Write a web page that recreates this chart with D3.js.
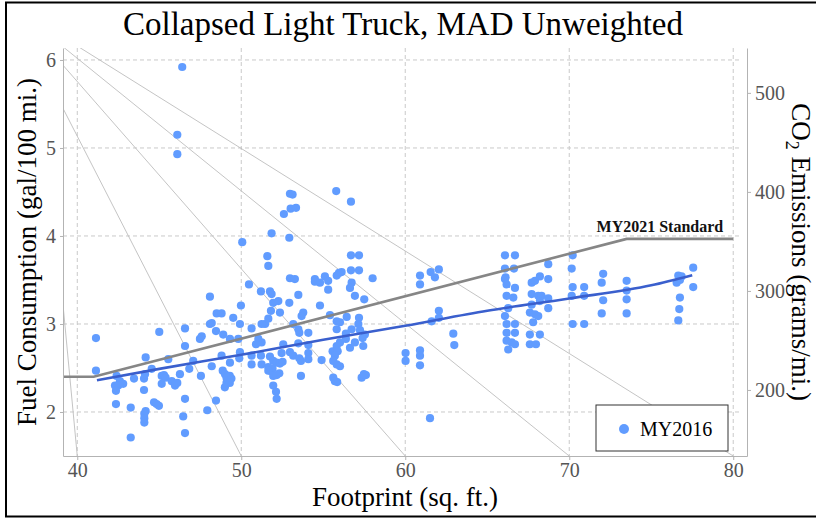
<!DOCTYPE html>
<html>
<head>
<meta charset="utf-8">
<script src="https://cdn.jsdelivr.net/npm/d3@7"></script>
<style>
  body { margin: 0; background: #fff; }
  #chart { width: 816px; height: 518px; }
  svg { display: block; }
</style>
</head>
<body>
<div id="chart"></div>
<script>
// MY2016 vehicles: footprint (sq. ft.) and fuel consumption (gal/100 mi.)
const footprint = [
  46.40, 46.10, 46.10, 50.06, 51.59, 51.65, 51.85,
  41.14, 41.14, 45.00, 44.17, 46.57, 46.57, 47.48, 47.59, 48.09, 48.09, 48.20, 48.50, 48.80,
  48.46, 48.90, 49.31, 49.51, 49.92, 49.82, 49.98, 50.47, 51.20, 51.45, 50.63, 51.24, 49.88,
  50.63, 51.20, 51.75,
  42.40, 42.60, 42.30, 42.50, 42.36, 42.80, 43.46, 44.07, 44.13, 44.54, 44.07, 42.36, 43.26,
  44.17, 44.09, 44.09, 44.09, 44.68, 44.84, 44.98, 45.15, 45.15, 45.29, 45.39, 45.55, 45.76,
  45.96, 46.10, 46.26, 46.57, 46.46, 46.57, 43.26, 46.83, 47.07, 47.54, 48.20, 48.46, 47.93,
  48.80, 48.87, 49.01, 49.10, 49.30, 49.40, 49.10, 49.30, 49.00, 49.31,
  52.97, 53.13, 53.01, 53.34, 52.60, 55.79, 56.69, 52.93, 56.69, 57.18, 56.69, 57.18, 55.96,
  56.12, 55.82, 55.10, 52.97, 53.27, 54.49, 58.01, 60.90, 61.55, 62.05, 61.81, 66.08, 66.69,
  66.08, 66.63, 66.12,
  54.49, 54.80, 55.30, 56.73, 51.75, 51.85, 51.95, 52.26, 52.93, 53.48, 55.30, 56.63, 56.93,
  57.50, 54.80, 51.81, 52.36, 53.78, 53.68, 55.41, 56.43, 57.18, 51.65, 51.24, 53.17, 53.48,
  53.54, 54.09, 55.82, 56.02, 55.82, 56.73, 57.24, 57.14, 57.54, 56.38, 51.04, 50.90, 52.56,
  53.48, 54.09, 56.38, 55.82, 56.63, 56.02, 56.93, 57.44, 57.40, 49.92, 51.75, 51.95, 52.46,
  52.97, 53.17, 53.54, 54.09, 54.09, 53.64, 54.90, 55.57, 55.88, 55.71, 55.82, 56.02, 55.61,
  50.63, 51.24, 51.65, 51.91, 52.16, 52.36, 52.52, 51.65, 51.95, 52.16, 52.32, 53.64, 55.61,
  55.71, 55.85, 57.34, 57.60, 57.48, 51.95, 52.12, 52.16, 61.51, 60.02, 60.02, 60.90, 60.90,
  60.90, 61.61, 62.05, 62.05, 62.93, 62.99, 60.90,
  66.08, 66.18, 66.69, 66.18, 66.59, 66.28, 66.08, 66.18, 66.69, 66.18, 66.69, 66.18, 66.49,
  66.69, 66.28,
  67.71, 67.91, 68.21, 68.72, 68.72, 67.71, 68.11, 68.31, 68.72, 67.71, 68.21, 68.72, 67.60,
  67.91, 68.11, 67.80, 67.60, 68.21, 67.60, 67.97,
  70.21, 70.15, 70.21, 70.91, 70.15, 70.91, 70.21, 70.91,
  72.07, 71.98, 72.07, 71.98, 73.50, 73.50, 73.50, 73.50,
  76.65, 76.85, 76.75, 76.55, 76.75, 76.71, 76.65, 77.56, 77.56
];
const fuel = [
  5.92, 5.15, 4.93, 3.93, 3.77, 3.66, 4.03,
  2.84, 2.47, 2.91, 2.62, 2.95, 2.75, 2.83, 2.86, 3.31, 3.00, 3.01, 3.12, 3.12,
  2.92, 2.88, 2.83, 3.07, 3.00, 2.83, 3.21, 3.45, 3.37, 3.00, 2.95, 2.79, 2.61,
  2.64, 2.64, 2.47,
  2.41, 2.35, 2.30, 2.30, 2.24, 2.32, 2.38, 2.38, 2.43, 2.49, 2.25, 2.09, 2.05,
  2.01, 1.98, 1.93, 1.88, 2.11, 2.09, 2.07, 2.41, 2.32, 2.42, 2.39, 2.60, 2.35,
  2.30, 2.33, 2.43, 2.15, 1.95, 1.76, 1.71, 2.49, 2.58, 2.41, 2.52, 2.13, 2.02,
  2.64, 2.47, 2.43, 2.39, 2.41, 2.38, 2.33, 2.33, 2.28, 2.56,
  4.48, 4.47, 4.31, 4.32, 4.25, 4.51, 4.39, 3.98, 3.78, 3.78, 3.61, 3.61, 3.58,
  3.59, 3.55, 3.54, 3.52, 3.51, 3.51, 3.52, 3.55, 3.59, 3.62, 3.53, 3.78, 3.78,
  3.63, 3.63, 3.53,
  3.48, 3.47, 3.49, 3.47, 3.37, 3.34, 3.24, 3.26, 3.24, 3.33, 3.39, 3.41, 3.32,
  3.28, 3.21, 3.15, 3.13, 3.13, 3.09, 3.10, 3.08, 3.07, 3.06, 3.00, 3.00, 2.94,
  2.90, 2.90, 3.03, 3.02, 2.94, 2.94, 2.93, 3.00, 2.88, 2.89, 2.83, 2.77, 2.77,
  2.78, 2.76, 2.83, 2.75, 2.73, 2.79, 2.79, 2.75, 2.84, 2.68, 2.63, 2.58, 2.67,
  2.68, 2.64, 2.61, 2.67, 2.60, 2.58, 2.59, 2.69, 2.69, 2.64, 2.54, 2.52, 2.58,
  2.54, 2.54, 2.51, 2.49, 2.56, 2.55, 2.57, 2.47, 2.41, 2.42, 2.44, 2.41, 2.39,
  2.35, 2.34, 2.39, 2.42, 2.43, 2.30, 2.23, 2.15, 1.93, 2.67, 2.58, 2.70, 2.64,
  2.53, 3.03, 3.15, 3.07, 2.89, 2.76, 3.45,
  3.51, 3.45, 3.41, 3.32, 3.30, 3.18, 3.09, 3.00, 3.00, 2.90, 2.90, 2.81, 2.79,
  2.77, 2.71,
  3.47, 3.49, 3.54, 3.68, 3.51, 3.34, 3.32, 3.32, 3.29, 3.22, 3.26, 3.18, 3.13,
  3.11, 3.09, 3.02, 2.88, 2.88, 2.77, 2.77,
  3.78, 3.63, 3.42, 3.42, 3.32, 3.32, 3.00, 3.00,
  3.57, 3.47, 3.27, 3.12, 3.49, 3.38, 3.28, 3.12,
  3.55, 3.54, 3.50, 3.47, 3.30, 3.17, 3.04, 3.64, 3.42
];

// fitted MY2016 curve
const fitX = [41.2, 45, 50, 55, 60, 65, 70, 75, 77.5];
const fitY = [2.36, 2.49, 2.65, 2.82, 2.98, 3.15, 3.29, 3.44, 3.555];

// MY2021 standard (piecewise)
const stdX = [39, 41.0, 73.5, 80];
const stdY = [2.40, 2.40, 3.967, 3.967];

// grey guide lines: start on the left edge, end on the bottom edge
const guideStartX = 39.13;
const guideStartY = [3.22, 5.45, 5.94, 6.15, 6.26];
const guideEnds = [40, 50, 60, 70, 80];

const xTicks = [40, 50, 60, 70, 80];
const yTicks = [2, 3, 4, 5, 6];
const co2Ticks = [200, 300, 400, 500];
const co2PerGal = 88.87;

const width = 816;
const height = 518;
const margin = { top: 48, right: 69, bottom: 62, left: 63 };

const svg = d3.select("#chart").append("svg")
  .attr("width", width)
  .attr("height", height);

const x = d3.scaleLinear()
  .domain([39.13, 80.84])
  .range([margin.left, width - margin.right]);

const y = d3.scaleLinear()
  .domain([1.5, 6.136])
  .range([height - margin.bottom, margin.top]);

const y2 = d3.scaleLinear()
  .domain(y.domain().map((d) => d * co2PerGal))
  .range(y.range());

const serif = "'Liberation Serif', 'Times New Roman', serif";

svg.append("defs").append("clipPath").attr("id", "panel")
  .append("rect")
  .attr("x", margin.left)
  .attr("y", margin.top)
  .attr("width", width - margin.left - margin.right)
  .attr("height", height - margin.top - margin.bottom);

// grid
const grid = svg.append("g")
  .attr("stroke", "#c9c9c9")
  .attr("stroke-dasharray", "4,3")
  .attr("stroke-width", 1);

grid.selectAll(".gx").data(xTicks).join("line")
  .attr("x1", (d) => x(d)).attr("x2", (d) => x(d))
  .attr("y1", margin.top).attr("y2", height - margin.bottom);

grid.selectAll(".gy").data(yTicks).join("line")
  .attr("x1", margin.left).attr("x2", width - margin.right - 7)
  .attr("y1", (d) => y(d)).attr("y2", (d) => y(d));

// guide lines
const plot = svg.append("g").attr("clip-path", "url(#panel)");

plot.selectAll(".guide").data(guideEnds).join("line")
  .attr("x1", x(guideStartX))
  .attr("y1", (d, i) => y(guideStartY[i]))
  .attr("x2", (d) => x(d))
  .attr("y2", y(1.5))
  .attr("stroke", "#bdbdbd")
  .attr("stroke-width", 0.9);

// points
plot.selectAll(".pt").data(footprint).join("circle")
  .attr("cx", (d) => x(d))
  .attr("cy", (d, i) => y(fuel[i]))
  .attr("r", 4.1)
  .attr("fill", "#619CFF");

// standard line
const line = d3.line().x((d) => x(d[0])).y((d) => y(d[1]));

plot.append("path")
  .datum(stdX.map((d, i) => [d, stdY[i]]))
  .attr("d", line)
  .attr("fill", "none")
  .attr("stroke", "#868686")
  .attr("stroke-width", 2.6);

plot.append("path")
  .datum(fitX.map((d, i) => [d, fitY[i]]))
  .attr("d", d3.line().x((d) => x(d[0])).y((d) => y(d[1])).curve(d3.curveMonotoneX))
  .attr("fill", "none")
  .attr("stroke", "#3A5FCD")
  .attr("stroke-width", 2.6);

svg.append("text")
  .attr("x", x(80) - 10)
  .attr("y", y(stdY[3]) - 7)
  .attr("text-anchor", "end")
  .style("font-family", serif)
  .style("font-weight", "bold")
  .style("font-size", "16px")
  .attr("fill", "#111")
  .text("MY2021 Standard");

// axes
const axisColor = "#b3b3b3";
const tickText = "#555";

const styleAxis = (g) => {
  g.select(".domain").attr("stroke", axisColor);
  g.selectAll(".tick line").attr("stroke", axisColor);
  g.selectAll(".tick text")
    .attr("fill", tickText)
    .style("font-family", serif)
    .style("font-size", "20px");
};

svg.append("g")
  .attr("transform", `translate(0,${height - margin.bottom})`)
  .call(d3.axisBottom(x).tickValues(xTicks).tickFormat(d3.format("d"))
    .tickSize(4).tickSizeOuter(0).tickPadding(3))
  .call(styleAxis);

svg.append("g")
  .attr("transform", `translate(${margin.left},0)`)
  .call(d3.axisLeft(y).tickValues(yTicks).tickFormat(d3.format("d"))
    .tickSize(3).tickSizeOuter(0).tickPadding(4))
  .call(styleAxis);

svg.append("g")
  .attr("transform", `translate(${width - margin.right},0)`)
  .call(d3.axisRight(y2).tickValues(co2Ticks).tickFormat(d3.format("d"))
    .tickSize(4).tickSizeOuter(0).tickPadding(4))
  .call(styleAxis);

// titles
svg.append("text")
  .attr("x", 403)
  .attr("y", 35)
  .attr("text-anchor", "middle")
  .style("font-family", serif)
  .style("font-size", "33px")
  .attr("fill", "#000")
  .text("Collapsed Light Truck, MAD Unweighted");

svg.append("text")
  .attr("x", 405)
  .attr("y", 506)
  .attr("text-anchor", "middle")
  .style("font-family", serif)
  .style("font-size", "27px")
  .attr("fill", "#000")
  .text("Footprint (sq. ft.)");

svg.append("text")
  .attr("transform", `translate(36,${(margin.top + height - margin.bottom) / 2}) rotate(-90)`)
  .attr("text-anchor", "middle")
  .style("font-family", serif)
  .style("font-size", "27px")
  .attr("fill", "#000")
  .text("Fuel Consumption (gal/100 mi.)");

const co2Title = svg.append("text")
  .attr("transform", `translate(792,${(margin.top + height - margin.bottom) / 2}) rotate(90)`)
  .attr("text-anchor", "middle")
  .style("font-family", serif)
  .style("font-size", "27px")
  .attr("fill", "#000");
co2Title.append("tspan").text("CO");
co2Title.append("tspan").attr("dy", 6).style("font-size", "18px").text("2");
co2Title.append("tspan").attr("dy", -6).text(" Emissions (grams/mi.)");

// legend
const legend = svg.append("g").attr("transform", "translate(596,405)");
legend.append("rect")
  .attr("width", 132)
  .attr("height", 46)
  .attr("fill", "#fff")
  .attr("stroke", "#333")
  .attr("stroke-width", 1);
legend.append("circle")
  .attr("cx", 28)
  .attr("cy", 24)
  .attr("r", 5)
  .attr("fill", "#619CFF");
legend.append("text")
  .attr("x", 44)
  .attr("y", 31)
  .style("font-family", serif)
  .style("font-size", "20px")
  .attr("fill", "#000")
  .text("MY2016");

// outer frame
svg.append("rect")
  .attr("x", 6)
  .attr("y", 2.5)
  .attr("width", width)
  .attr("height", 514)
  .attr("fill", "none")
  .attr("stroke", "#000")
  .attr("stroke-width", 2);
</script>
</body>
</html>
